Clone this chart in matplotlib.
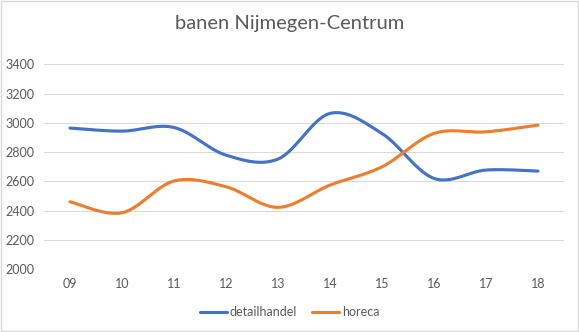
import numpy as np
import matplotlib
matplotlib.use('Agg')
import matplotlib.pyplot as plt

years = ['09', '10', '11', '12', '13', '14', '15', '16', '17', '18']
detailhandel = [2965, 2944, 2969, 2780, 2753, 3065, 2928, 2621, 2678, 2671]
horeca = [2461, 2386, 2603, 2564, 2423, 2575, 2700, 2928, 2939, 2985]


def smooth(xs, ys, n=30, tension=1.0 / 6):
    # excel-like smoothed line (cardinal spline via cubic bezier segments)
    xs = np.asarray(xs, float)
    ys = np.asarray(ys, float)
    px, py = [], []
    for i in range(len(xs) - 1):
        x0, y0 = (xs[i - 1], ys[i - 1]) if i > 0 else (xs[i], ys[i])
        x1, y1 = xs[i], ys[i]
        x2, y2 = xs[i + 1], ys[i + 1]
        x3, y3 = (xs[i + 2], ys[i + 2]) if i + 2 < len(xs) else (x2, y2)
        c1x, c1y = x1 + (x2 - x0) * tension, y1 + (y2 - y0) * tension
        c2x, c2y = x2 - (x3 - x1) * tension, y2 - (y3 - y1) * tension
        t = np.linspace(0, 1, n)
        a, b, c, d = (1 - t) ** 3, 3 * (1 - t) ** 2 * t, 3 * (1 - t) * t ** 2, t ** 3
        px.extend(a * x1 + b * c1x + c * c2x + d * x2)
        py.extend(a * y1 + b * c1y + c * c2y + d * y2)
    return px, py


plt.rcParams['font.family'] = ['Lato', 'DejaVu Sans']
txt = '#595959'

fig = plt.figure(figsize=(5.79, 3.32), dpi=100)
ax = fig.add_axes([0.076, 0.189, 0.898, 0.617])

x = np.arange(len(years))
sx, sy = smooth(x, detailhandel)
ax.plot(sx, sy, color='#4472C4', lw=2.25, label='detailhandel', solid_capstyle='round')
sx, sy = smooth(x, horeca)
ax.plot(sx, sy, color='#ED7D31', lw=2.25, label='horeca', solid_capstyle='round')

ax.set_xlim(-0.5, len(years) - 0.5)
ax.set_ylim(2000, 3400)
ax.set_yticks(range(2000, 3401, 200))
ax.set_xticks(x)
ax.set_xticklabels(years)
ax.grid(axis='y', color='#D9D9D9', lw=0.75)
ax.set_axisbelow(True)
for s in ax.spines.values():
    s.set_visible(False)
ax.tick_params(length=0, colors=txt, labelsize=9)
ax.tick_params(axis='y', pad=7)
ax.tick_params(axis='x', pad=6)

fig.text(0.5, 0.93, 'banen Nijmegen-Centrum', ha='center', va='center',
         fontsize=14.5, color=txt)
fig.legend(loc='center', bbox_to_anchor=(0.5, 0.06), ncol=2, frameon=False,
           fontsize=9, labelcolor=txt, handlelength=2.2, handletextpad=0.2,
           columnspacing=1.2)

fig.add_artist(plt.Rectangle((0.001, 0.002), 0.997, 0.995, transform=fig.transFigure,
                             fill=False, edgecolor='#D9D9D9', lw=1))

fig.savefig('out.png', dpi=100)
